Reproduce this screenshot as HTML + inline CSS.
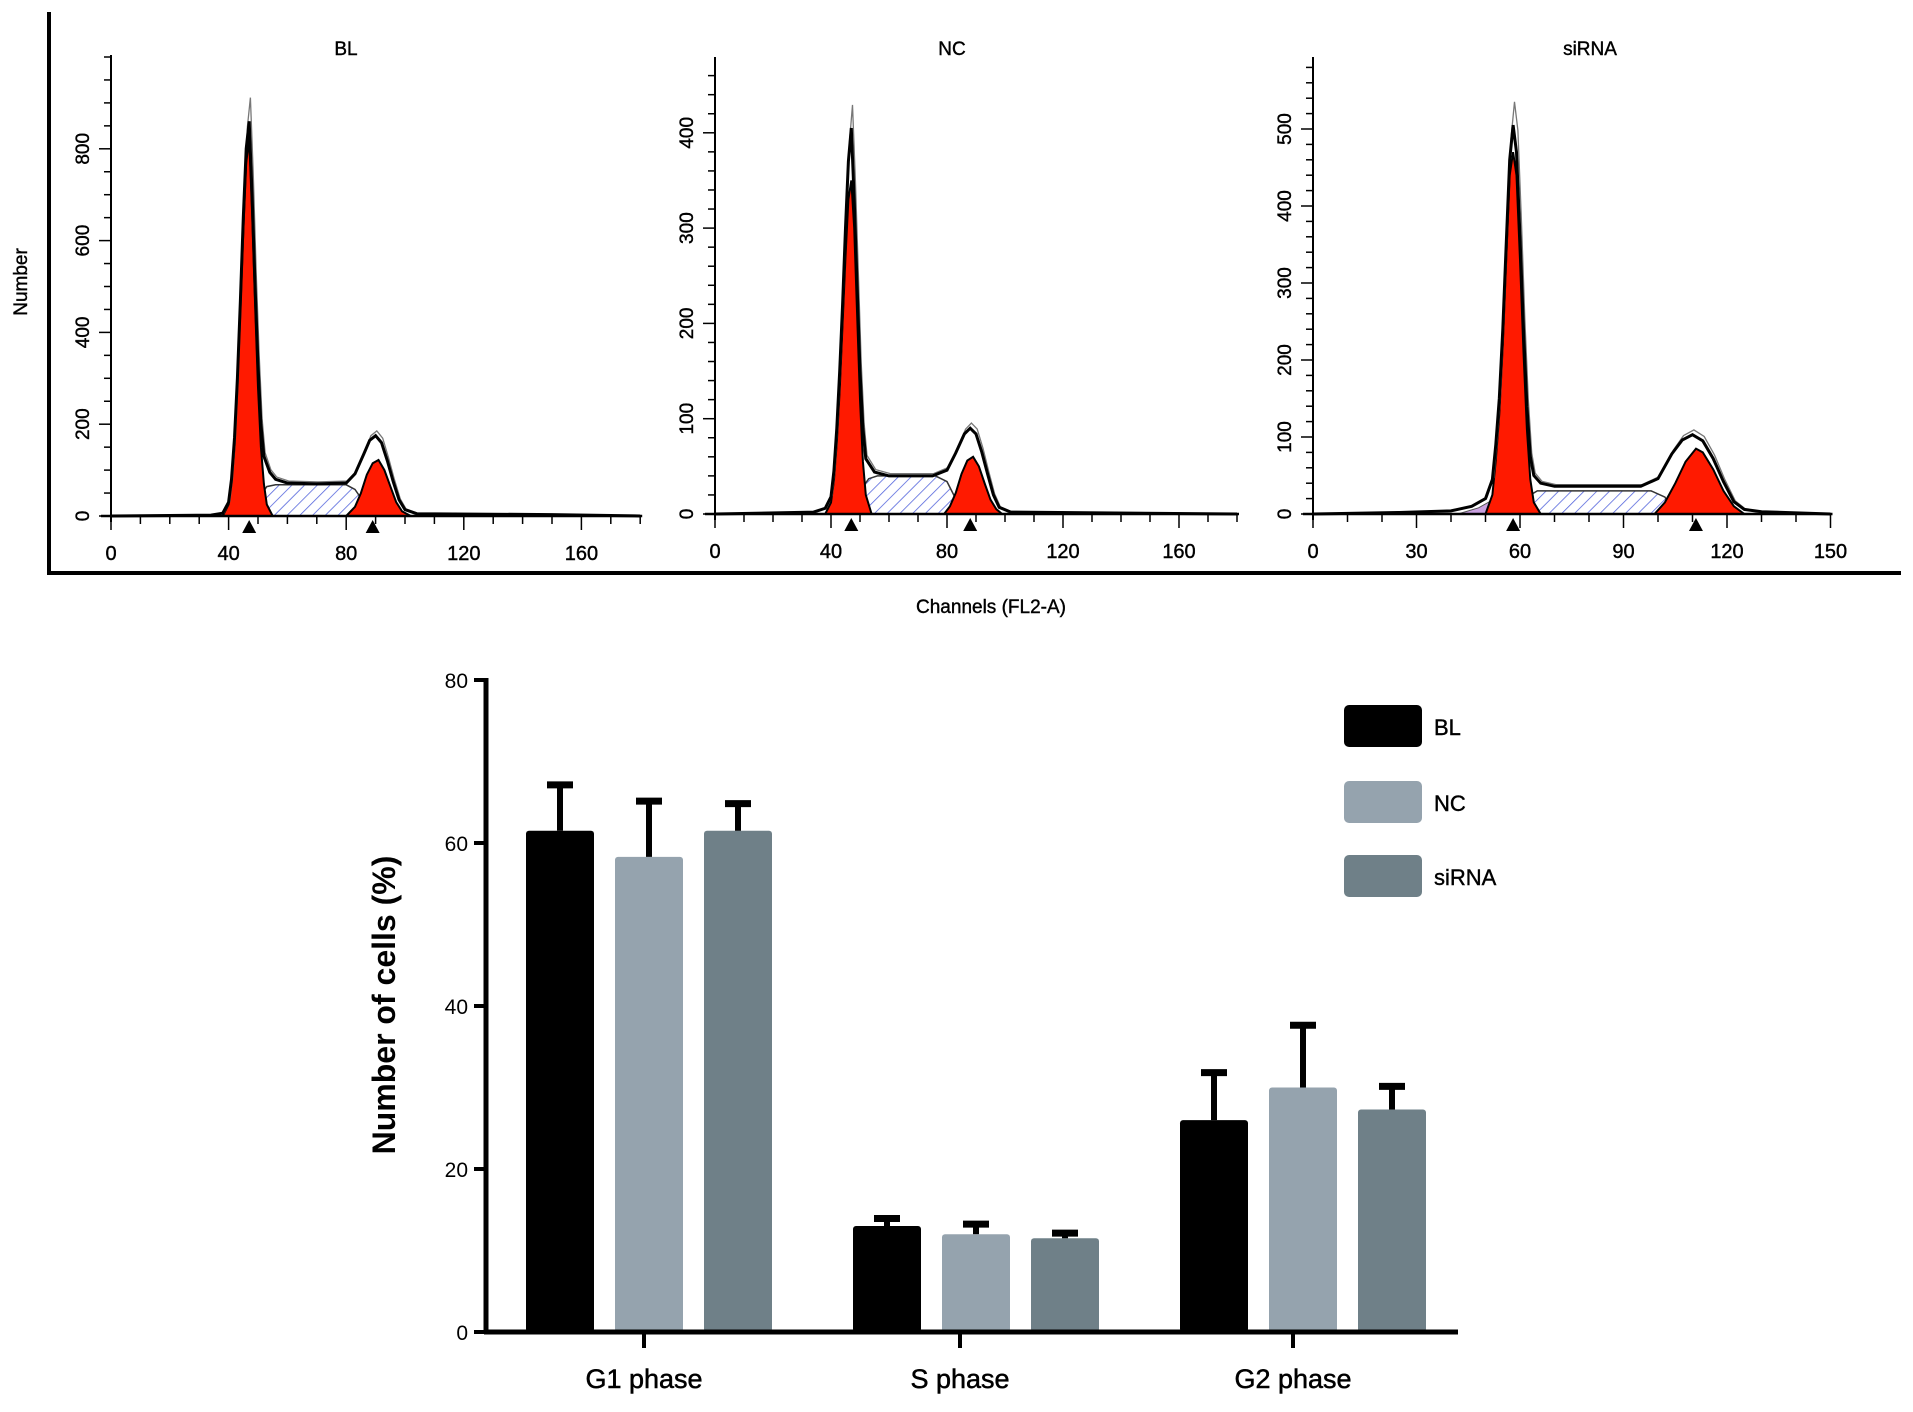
<!DOCTYPE html>
<html><head><meta charset="utf-8">
<style>
html,body{margin:0;padding:0;background:#fff;}
body{width:1913px;height:1407px;overflow:hidden;font-family:"Liberation Sans",Arial,sans-serif;}
svg text{font-family:"Liberation Sans",Arial,sans-serif;}
</style></head>
<body>
<svg id="fig" width="1913" height="1407" viewBox="0 0 1913 1407" xmlns="http://www.w3.org/2000/svg">
<defs>
<pattern id="hatch" patternUnits="userSpaceOnUse" width="9" height="9" patternTransform="rotate(45)">
<rect width="9" height="9" fill="#fff"/>
<line x1="0" y1="0" x2="0" y2="9" stroke="#5566dd" stroke-width="1.6"/>
</pattern>
</defs>
<g id="topPanels"></g>
<g id="bars"></g>
</svg>
<script>
// ---------- Histogram data (channel, count) ----------
const blEnvelope=[[0,0],[34,2],[38,6],[40,30],[41,80],[42,170],[43,300],[44,470],[45,650],[46,800],[47,860],[48,700],[49,500],[50,330],[51,200],[52,130],[54,95],[56,80],[60,72],[70,70],[80,72],[83,92],[86,135],[88,165],[90,175],[92,160],[94,120],[96,75],[98,35],[100,14],[104,5],[150,3],[180,0]];
const blG1=[[38,0],[40,25],[41,70],[42,150],[43,280],[44,450],[45,620],[46,770],[47,820],[48,660],[49,460],[50,280],[51,150],[52,70],[53,25],[55,0]];
const blG2=[[80,0],[83,20],[85,50],[87,90],[89,115],[91,122],[93,100],[95,65],[97,30],[99,10],[102,0]];
const blS=[[48,0],[51,45],[53,64],[56,68],[80,68],[83,58],[86,30],[88,0]];
const ncEnvelope=[[0,0],[34,2],[38,6],[40,18],[41,45],[42,90],[43,150],[44,220],[45,300],[46,370],[47,405],[48,330],[49,240],[50,150],[51,90],[52,58],[55,44],[60,40],[75,40],[80,46],[83,64],[86,84],[88,90],[90,84],[92,65],[94,42],[96,20],[98,7],[102,2],[180,0]];
const ncG1=[[38,0],[40,12],[41,35],[42,75],[43,130],[44,200],[45,270],[46,330],[47,350],[48,300],[49,210],[50,120],[51,55],[52,20],[54,0]];
const ncG2=[[79,0],[81,8],[83,22],[85,42],[87,56],[89,60],[91,50],[93,32],[95,15],[97,5],[99,0]];
const ncS=[[48,0],[50,24],[53,37],[56,40],[76,40],[80,34],[83,16],[85,0]];
const siEnvelope=[[0,0],[25,2],[40,4],[46,10],[50,20],[52,45],[53,90],[54,150],[55,240],[56,350],[57,460],[58,505],[59,470],[60,360],[61,240],[62,140],[63,75],[64,50],[66,40],[70,36],[95,36],[100,46],[104,78],[107,96],[110,103],[113,95],[116,72],[119,42],[122,16],[125,6],[130,3],[150,0]];
const siG1=[[50,0],[52,25],[53,70],[54,130],[55,220],[56,330],[57,440],[58,470],[59,440],[60,330],[61,210],[62,110],[63,45],[64,15],[66,0]];
const siG2=[[99,0],[102,15],[105,40],[108,68],[111,85],[113,80],[116,58],[119,30],[122,10],[125,0]];
const siS=[[58,0],[62,22],[65,30],[98,30],[102,22],[105,0]];
const siDebris=[[42,0],[48,8],[52,18],[55,25],[58,20],[62,8],[66,0]];

const panels=[
 {name:'BL',env:blEnvelope,g1:blG1,g2:blG2,s:blS,x0:111,xs:2.94,xmax:180,xticks:[0,40,80,120,160],xminor:10,y0:516,ys:0.459,ytop:55,yticks:[0,200,400,600,800],yminor:50,tx:346,marks:[47,89]},
 {name:'NC',env:ncEnvelope,g1:ncG1,g2:ncG2,s:ncS,x0:715,xs:2.9,xmax:180,xticks:[0,40,80,120,160],xminor:10,y0:514,ys:0.953,ytop:57,yticks:[0,100,200,300,400],yminor:20,tx:952,marks:[47,88]},
 {name:'siRNA',env:siEnvelope,g1:siG1,g2:siG2,s:siS,x0:1313,xs:3.45,xmax:150,xticks:[0,30,60,90,120,150],xminor:10,y0:514,ys:0.77,ytop:57,yticks:[0,100,200,300,400,500],yminor:20,tx:1590,marks:[58,111],debris:siDebris}
];

// ---------- Bar chart data ----------
const categories=['G1 phase','S phase','G2 phase'];
const seriesNames=['BL','NC','siRNA'];
const blMeans=[61.5,13,26];
const blErr=[6,1.3,6.2];
const ncMeans=[58.3,12,30];
const ncErr=[7.2,1.6,8];
const siMeans=[61.5,11.5,27.3];
const siErr=[3.7,1,3.2];
const barTicks=[0,20,40,60,80];

const NS='http://www.w3.org/2000/svg';
function mk(parent,tag,attrs,text){const e=document.createElementNS(NS,tag);for(const k in attrs)e.setAttribute(k,attrs[k]);if(text!==undefined)e.textContent=text;parent.appendChild(e);return e;}

const topG=document.getElementById('topPanels');
let fr=mk(topG,'polyline',{points:'49,12 49,573 1901,573',fill:'none',stroke:'#000','stroke-width':4});


let yl=mk(topG,'text',{x:0,y:0,transform:'translate(27,282) rotate(-90)','text-anchor':'middle','font-size':19,stroke:'#000','stroke-width':0.4},'Number');


let xl=mk(topG,'text',{x:991,y:613,'text-anchor':'middle','font-size':19,stroke:'#000','stroke-width':0.4},'Channels (FL2-A)');



panels.forEach(p=>{
 const g=mk(topG,'g',{});
 
 
 const X=c=>p.x0+c*p.xs, Y=v=>p.y0-v*p.ys;
 const pts=a=>a.map(d=>X(d[0]).toFixed(1)+','+Y(d[1]).toFixed(1)).join(' ');
 const t=mk(g,'text',{x:p.tx,y:55,'text-anchor':'middle','font-size':19,stroke:'#000','stroke-width':0.4},p.name);
 
 
 if(p.debris){const d=mk(g,'polygon',{points:pts(p.debris),fill:'#c9a0e0',stroke:'#555','stroke-width':1});
  
  }
 const s=mk(g,'polygon',{points:pts(p.s),fill:'url(#hatch)',stroke:'#333','stroke-width':1.5});
 
 
 const g1=mk(g,'polygon',{points:pts(p.g1),fill:'#ff1a00',stroke:'#000','stroke-width':2});
 
 
 const g2=mk(g,'polygon',{points:pts(p.g2),fill:'#ff1a00',stroke:'#000','stroke-width':2});
 
 
 const e2=mk(g,'polyline',{points:pts(p.env.map(d=>[d[0]+0.4,d[1]*1.06])),fill:'none',stroke:'#777','stroke-width':1.3});
 
 
 const e=mk(g,'polyline',{points:pts(p.env),fill:'none',stroke:'#000','stroke-width':3});
 
 
 const ya=mk(g,'line',{x1:X(0),y1:p.ytop,x2:X(0),y2:p.y0+6,stroke:'#000','stroke-width':2});
 
 
 const xa=mk(g,'line',{x1:X(0)-10,y1:p.y0,x2:X(p.xmax)+2,y2:p.y0,stroke:'#000','stroke-width':2.5});
 
 
 const ymaxv=(p.y0-p.ytop)/p.ys;
 for(let v=0;v<=ymaxv;v+=p.yminor){const major=p.yticks.includes(v);mk(g,'line',{x1:X(0)-(major?12:7),y1:Y(v),x2:X(0),y2:Y(v),stroke:'#000','stroke-width':1.5});}
 p.yticks.forEach(v=>{const tl=mk(g,'text',{x:0,y:0,transform:`translate(${X(0)-22},${Y(v)}) rotate(-90)`,'text-anchor':'middle','font-size':19,stroke:'#000','stroke-width':0.4},String(v));
  
  });
 for(let c=0;c<=p.xmax;c+=p.xminor){const major=p.xticks.includes(c);mk(g,'line',{x1:X(c),y1:p.y0,x2:X(c),y2:p.y0+(major?14:8),stroke:'#000','stroke-width':1.5});}
 p.xticks.forEach(c=>{const tl=mk(g,'text',{x:X(c),y:p.y0+44,'text-anchor':'middle','font-size':20,stroke:'#000','stroke-width':0.4},String(c));
  
  });
 p.marks.forEach(c=>{const m=mk(g,'polygon',{points:`${X(c)-7},${p.y0+17} ${X(c)+7},${p.y0+17} ${X(c)},${p.y0+4}`,fill:'#000'});
  
  });
});

// ---------- bar chart ----------
const bg=document.getElementById('bars');
const AX=486, AY0=1332, AY80=680, AXEND=1458;
const by=v=>AY0-(v/80)*(AY0-AY80);
const groupCenters=[649,976,1303];
const tickCenters=[644,960,1293];
const colors=['#000000','#95a3ae','#6f8088'];
const means=[blMeans,ncMeans,siMeans], errs=[blErr,ncErr,siErr];
const BW=68, STEP=89;
categories.forEach((cat,ci)=>{
 means.forEach((m,si)=>{
  const cx=groupCenters[ci]+(si-1)*STEP;
  const barTop=by(m[ci]);
  const r=mk(bg,'rect',{x:cx-BW/2,y:barTop,width:BW,height:AY0-barTop,fill:colors[si],rx:3});
  
  
  const et=by(m[ci]+errs[si][ci]);
  const el=mk(bg,'line',{x1:cx,y1:barTop,x2:cx,y2:et,stroke:'#000','stroke-width':6});
  
  
  const ec=mk(bg,'line',{x1:cx-13,y1:et+3,x2:cx+13,y2:et+3,stroke:'#000','stroke-width':7});
  
  
 });
 mk(bg,'line',{x1:tickCenters[ci],y1:AY0,x2:tickCenters[ci],y2:AY0+16,stroke:'#000','stroke-width':4});
 const cl=mk(bg,'text',{x:tickCenters[ci],y:1388,'text-anchor':'middle','font-size':27,stroke:'#000','stroke-width':0.5},cat);
 
 
});
const bya=mk(bg,'line',{x1:AX,y1:AY80-2,x2:AX,y2:AY0+2,stroke:'#000','stroke-width':5});


const bxa=mk(bg,'line',{x1:AX-2,y1:AY0,x2:AXEND,y2:AY0,stroke:'#000','stroke-width':5});


barTicks.forEach(v=>{
 mk(bg,'line',{x1:AX-12,y1:by(v),x2:AX,y2:by(v),stroke:'#000','stroke-width':4});
 const tl=mk(bg,'text',{x:AX-18,y:by(v)+8,'text-anchor':'end','font-size':21},String(v));
 
 
});
const byt=mk(bg,'text',{x:0,y:0,transform:'translate(395,1005) rotate(-90)','text-anchor':'middle','font-size':32,'font-weight':'bold'},'Number of cells (%)');


const legY=[705,781,855];
seriesNames.forEach((n,i)=>{
 const lg=mk(bg,'g',{});
 
 
 mk(lg,'rect',{x:1344,y:legY[i],width:78,height:42,rx:5,fill:colors[i]});
 mk(lg,'text',{x:1434,y:legY[i]+30,'font-size':22,stroke:'#000','stroke-width':0.4},n);
});
</script>
</body></html>
